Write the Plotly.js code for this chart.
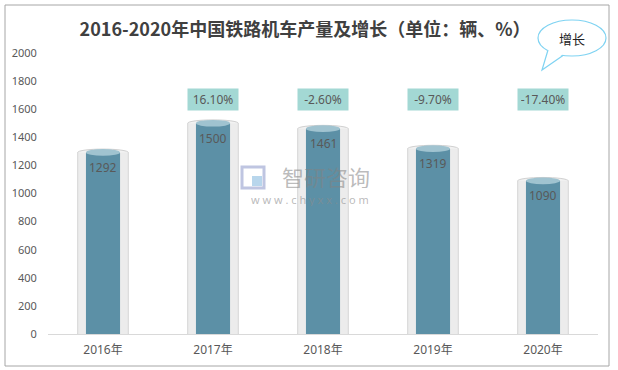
<!DOCTYPE html>
<html>
<head>
<meta charset="utf-8">
<script src="https://cdn.plot.ly/plotly-3.0.1.min.js"></script>
<style>html,body{margin:0;padding:0;background:#fff;}#chart{width:618px;height:370px;}</style>
</head>
<body>
<div id="chart"></div>
<script>
const years = ['2016年', '2017年', '2018年', '2019年', '2020年'];
const output = [1292, 1500, 1461, 1319, 1090];
const growth = ['', '16.10%', '-2.60%', '-9.70%', '-17.40%'];
const yTicks = [0, 200, 400, 600, 800, 1000, 1200, 1400, 1600, 1800, 2000];

const W = 618, H = 370;
const M = {l: 48, r: 20, t: 53, b: 36};
const PW = W - M.l - M.r, PH = H - M.t - M.b;
const px = x => (x - M.l) / PW;
const py = y => (H - M.b - y) / PH;

const FONT = 'Noto Sans, Noto Sans CJK SC, sans-serif';
const GREY = '#595959';

const outer = {
  type: 'bar', x: years, y: output, width: 0.46,
  marker: {color: '#ececec', line: {width: 0}},
  hoverinfo: 'skip', showlegend: false
};
const inner = {
  type: 'bar', x: years, y: output, width: 0.31,
  marker: {color: '#5c90a6', line: {width: 0}},
  hoverinfo: 'skip', showlegend: false
};

const shapes = [];
const annotations = [];
const eh = 24; // half ellipse height in data units
years.forEach((c, i) => {
  const v = output[i];
  shapes.push({type: 'circle', xref: 'x', yref: 'y', layer: 'below',
    x0: i - 0.23, x1: i + 0.23, y0: -eh, y1: eh,
    fillcolor: '#ececec', line: {color: '#d4d4d4', width: 1}});
  shapes.push({type: 'circle', xref: 'x', yref: 'y', layer: 'below',
    x0: i - 0.23, x1: i + 0.23, y0: v - eh, y1: v + eh,
    fillcolor: '#f2f2f2', line: {color: '#d0d0d0', width: 1}});
  // glass side edges
  [-0.23, 0.23].forEach(dx => shapes.push({type: 'line', xref: 'x', yref: 'y', layer: 'above',
    x0: i + dx, x1: i + dx, y0: 0, y1: v, line: {color: '#d6d6d6', width: 1}}));
  shapes.push({type: 'circle', xref: 'x', yref: 'y', layer: 'above',
    x0: i - 0.155, x1: i + 0.155, y0: -eh, y1: eh,
    fillcolor: '#5c90a6', line: {width: 0}});
  shapes.push({type: 'circle', xref: 'x', yref: 'y', layer: 'above',
    x0: i - 0.155, x1: i + 0.155, y0: v - eh, y1: v + eh,
    fillcolor: '#a0c3d0', line: {width: 0}});
  annotations.push({x: c, y: v, xref: 'x', yref: 'y', text: String(v),
    showarrow: false, yshift: -15, xanchor: 'center', yanchor: 'middle',
    font: {family: FONT, size: 12, color: GREY}});
  if (growth[i]) {
    annotations.push({x: c, y: py(99.5), xref: 'x', yref: 'paper', text: growth[i],
      xanchor: 'center', yanchor: 'middle',
      showarrow: false, bgcolor: '#a3d8d4', width: 44, height: 15, borderpad: 3,
      font: {family: FONT, size: 12, color: GREY}});
  }
});

// outer frame
shapes.push({type: 'rect', xref: 'paper', yref: 'paper',
  x0: px(5), x1: px(609), y0: py(366), y1: py(5),
  line: {color: '#a6a6a6', width: 1}, fillcolor: 'rgba(0,0,0,0)'});

// speech bubble
shapes.push({type: 'circle', xref: 'paper', yref: 'paper',
  x0: px(538), x1: px(606), y0: py(56), y1: py(20),
  fillcolor: '#ffffff', line: {color: '#7fd3f2', width: 1.2}});
shapes.push({type: 'path', xref: 'paper', yref: 'paper',
  path: `M ${px(548)} ${py(49)} L ${px(563)} ${py(54)} L ${px(542)} ${py(70)} Z`,
  fillcolor: '#ffffff', line: {width: 0}});
shapes.push({type: 'path', xref: 'paper', yref: 'paper',
  path: `M ${px(548)} ${py(50)} L ${px(542)} ${py(70)} L ${px(563)} ${py(55.5)}`,
  fillcolor: 'rgba(0,0,0,0)', line: {color: '#7fd3f2', width: 1.2}});
annotations.push({x: px(572), y: py(38), xref: 'paper', yref: 'paper', text: '增长',
  xanchor: 'center', yanchor: 'middle', showarrow: false,
  font: {family: 'Noto Sans CJK SC, sans-serif', size: 13, color: '#222'}});

// watermark
shapes.push({type: 'rect', xref: 'paper', yref: 'paper',
  x0: px(242), x1: px(264), y0: py(188), y1: py(167),
  fillcolor: 'rgba(0,0,0,0)', line: {color: 'rgba(170,178,215,0.75)', width: 3}});
shapes.push({type: 'rect', xref: 'paper', yref: 'paper',
  x0: px(252), x1: px(262), y0: py(186), y1: py(176),
  fillcolor: 'rgba(160,200,230,0.75)', line: {width: 0}});
annotations.push({x: px(326), y: py(176), xref: 'paper', yref: 'paper', text: '智研咨询',
  xanchor: 'center', yanchor: 'middle', height: 24, showarrow: false,
  font: {family: 'Noto Sans CJK SC, sans-serif', size: 22, color: 'rgba(130,130,130,0.55)'}});
annotations.push({x: px(310), y: py(199), xref: 'paper', yref: 'paper', text: 'w w w . c h y x x . c o m',
  xanchor: 'center', yanchor: 'middle', height: 13, showarrow: false,
  font: {family: FONT, size: 11, color: 'rgba(140,140,140,0.6)'}});

const layout = {
  width: W, height: H,
  margin: M,
  paper_bgcolor: '#ffffff', plot_bgcolor: '#ffffff',
  barmode: 'overlay',
  title: {text: '<b>2016-2020年中国铁路机车产量及增长（单位：辆、%）</b>',
    x: 305 / W, xanchor: 'center', y: 1 - 30 / H, yanchor: 'middle',
    font: {family: 'Noto Sans CJK SC, sans-serif', size: 18, color: '#404040'}},
  xaxis: {type: 'category', range: [-0.5, 4.5], showgrid: false, showline: false,
    zeroline: false, ticks: 'outside', ticklen: 5, tickcolor: 'rgba(0,0,0,0)',
    tickfont: {family: FONT, size: 12, color: GREY}, fixedrange: true},
  yaxis: {range: [0, 2000], tickvals: yTicks, ticktext: yTicks.map(String),
    showgrid: false, zeroline: true, zerolinecolor: '#d9d9d9', zerolinewidth: 1,
    showline: false, ticks: 'outside', ticklen: 8, tickcolor: 'rgba(0,0,0,0)',
    tickfont: {family: FONT, size: 11, color: GREY}, fixedrange: true},
  shapes: shapes,
  annotations: annotations,
  showlegend: false
};

Plotly.newPlot('chart', [outer, inner], layout, {displayModeBar: false, staticPlot: true});
</script>
</body>
</html>
